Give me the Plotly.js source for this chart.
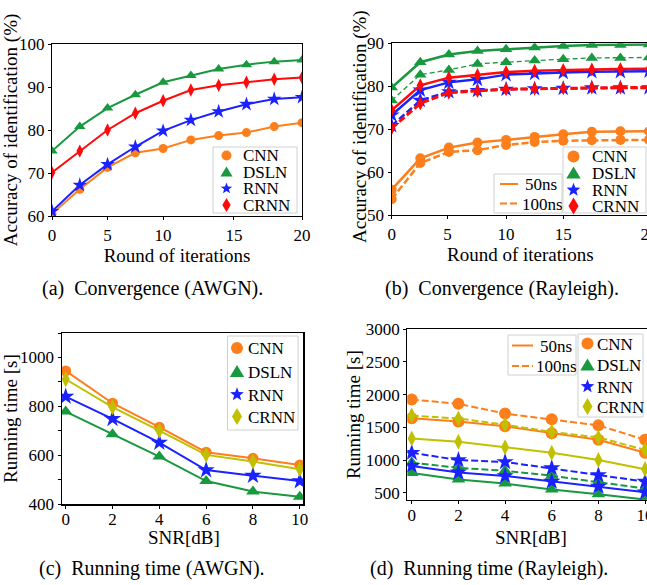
<!DOCTYPE html>
<html><head><meta charset="utf-8">
<script src="https://cdn.plot.ly/plotly-3.0.1.min.js"></script>
<style>html,body{margin:0;padding:0;overflow:hidden;background:#fff}#chart{width:660px;height:585px}</style>
</head><body><div id="chart"></div>
<script>
// ---------------- data ----------------
const models = ['CNN', 'DSLN', 'RNN', 'CRNN'];
const delaySpreads = ['50ns', '100ns'];

const roundIdx = [0, 1, 2, 3, 4, 5, 6, 7, 8, 9];
const roundTickText = ['0', '5', '10', '15', '20'];
const roundTickPosA = [0, 2, 4, 6.55, 9];
const roundTickPosB = [0, 1.95, 4, 6, 9];

const awgnAccCNN  = [60.5, 66.2, 71.3, 74.7, 75.7, 77.7, 78.7, 79.4, 80.8, 81.7];
const awgnAccDSLN = [75.1, 80.8, 85.1, 88.2, 91.1, 92.7, 94.2, 95.2, 95.9, 96.3];
const awgnAccRNN  = [61.1, 67.2, 72.0, 76.1, 79.8, 82.3, 84.3, 86.0, 87.2, 87.6];
const awgnAccCRNN = [70.1, 75.1, 80.0, 83.9, 86.8, 89.3, 90.4, 91.1, 91.8, 92.2];

const rayAccCNN50   = [55.9, 63.2, 65.7, 66.9, 67.5, 68.2, 68.8, 69.4, 69.5, 69.5];
const rayAccCNN100  = [53.7, 62.1, 64.7, 65.1, 66.3, 67.0, 67.3, 67.4, 67.5, 67.5];
const rayAccDSLN50  = [79.7, 85.6, 87.4, 88.2, 88.6, 89.0, 89.4, 89.6, 89.6, 89.7];
const rayAccDSLN100 = [76.7, 82.7, 83.8, 85.2, 85.6, 86.0, 86.3, 86.6, 86.6, 86.7];
const rayAccRNN50   = [73.3, 79.1, 80.9, 81.6, 82.7, 83.0, 83.2, 83.4, 83.4, 83.5];
const rayAccRNN100  = [70.8, 76.7, 78.7, 79.0, 79.3, 79.4, 79.5, 79.6, 79.6, 79.6];
const rayAccCRNN50  = [74.4, 80.2, 82.0, 82.6, 83.3, 83.6, 83.8, 83.9, 84.0, 84.1];
const rayAccCRNN100 = [70.2, 76.0, 78.5, 78.9, 79.3, 79.4, 79.5, 79.7, 79.7, 79.7];

const snrDb = [0, 2, 4, 6, 8, 10];
const awgnTimeCNN  = [945, 813, 715, 613, 588, 561];
const awgnTimeDSLN = [779, 686, 595, 495, 452, 431];
const awgnTimeRNN  = [840, 749, 652, 540, 517, 495];
const awgnTimeCRNN = [911, 797, 701, 602, 575, 543];

const rayTimeCNN50   = [1640, 1590, 1515, 1410, 1310, 1110];
const rayTimeCNN100  = [1925, 1860, 1710, 1625, 1530, 1310];
const rayTimeDSLN50  = [800, 700, 640, 550, 475, 395];
const rayTimeDSLN100 = [960, 880, 835, 760, 660, 565];
const rayTimeRNN50   = [910, 810, 755, 670, 595, 505];
const rayTimeRNN100  = [1110, 1000, 970, 875, 770, 670];
const rayTimeCRNN50  = [1330, 1280, 1195, 1110, 1000, 860];
const rayTimeCRNN100 = [1680, 1635, 1540, 1430, 1345, 1155];

const awgnTimeTicks = [400, 500, 600, 700, 800, 900, 1000, 1100];
const awgnTimeTickText = ['400', '', '600', '', '800', '', '1000', ''];

const titleRound = 'Round of iterations';
const titleAcc = 'Accuracy of identification (%)';
const titleSnr = 'SNR[dB]';
const titleTime = 'Running time [s]';
const captions = ['(a)  Convergence (AWGN).', '(b)  Convergence (Rayleigh).',
                  '(c)  Running time (AWGN).', '(d)  Running time (Rayleigh).'];

// ---------------- styling ----------------
const W = 660, H = 585;
const FONT = 'Liberation Serif';
const C = { CNN: '#fd7f1c', DSLN: '#18993f', RNN: '#1a22ff', CRNN: '#ff0a0a', CRNNc: '#c0c000' };
const SYM = { CNN: 'circle', DSLN: 'triangle-up', RNN: 'star', CRNN: 'diamond-tall' };
const DASH = '7px,3px';
const px = x => x / W, py = y => 1 - y / H;

function tr(x, y, xa, ya, model, color, opt) {
  opt = opt || {};
  return {
    x: x, y: y, xaxis: xa, yaxis: ya, type: 'scatter', mode: 'lines+markers',
    name: model, showlegend: false, hoverinfo: 'skip',
    line: { color: color, width: opt.lw || 2, dash: opt.dash || 'solid' },
    marker: { symbol: SYM[model], color: color, size: (opt.ms || {})[model] || 10 }
  };
}

const msA = { CNN: 9, DSLN: 10, RNN: 11, CRNN: 9.5 };
const msB = { CNN: 10, DSLN: 11, RNN: 12, CRNN: 10 };
const msC = { CNN: 11, DSLN: 12, RNN: 13, CRNN: 11.5 };
const msD = { CNN: 12, DSLN: 12, RNN: 13, CRNN: 11.5 };

const data = [
  // (a)
  tr(roundIdx, awgnAccCNN, 'x', 'y', 'CNN', C.CNN, { ms: msA }),
  tr(roundIdx, awgnAccDSLN, 'x', 'y', 'DSLN', C.DSLN, { ms: msA }),
  tr(roundIdx, awgnAccRNN, 'x', 'y', 'RNN', C.RNN, { ms: msA }),
  tr(roundIdx, awgnAccCRNN, 'x', 'y', 'CRNN', C.CRNN, { ms: msA }),
  // (b)
  tr(roundIdx, rayAccCNN50, 'x2', 'y2', 'CNN', C.CNN, { ms: msB, lw: 2.5 }),
  tr(roundIdx, rayAccCNN100, 'x2', 'y2', 'CNN', C.CNN, { ms: msB, lw: 2.5, dash: DASH }),
  tr(roundIdx, rayAccDSLN50, 'x2', 'y2', 'DSLN', C.DSLN, { ms: msB, lw: 2.5 }),
  tr(roundIdx, rayAccDSLN100, 'x2', 'y2', 'DSLN', C.DSLN, { ms: msB, lw: 1.3, dash: '5px,3px' }),
  tr(roundIdx, rayAccRNN50, 'x2', 'y2', 'RNN', C.RNN, { ms: msB, lw: 2.5 }),
  tr(roundIdx, rayAccRNN100, 'x2', 'y2', 'RNN', C.RNN, { ms: msB, lw: 2.5, dash: DASH }),
  tr(roundIdx, rayAccCRNN50, 'x2', 'y2', 'CRNN', C.CRNN, { ms: msB, lw: 2.5 }),
  tr(roundIdx, rayAccCRNN100, 'x2', 'y2', 'CRNN', C.CRNN, { ms: msB, lw: 3, dash: DASH }),
  // (c)
  tr(snrDb, awgnTimeCNN, 'x3', 'y3', 'CNN', C.CNN, { ms: msC }),
  tr(snrDb, awgnTimeDSLN, 'x3', 'y3', 'DSLN', C.DSLN, { ms: msC }),
  tr(snrDb, awgnTimeRNN, 'x3', 'y3', 'RNN', C.RNN, { ms: msC }),
  tr(snrDb, awgnTimeCRNN, 'x3', 'y3', 'CRNN', C.CRNNc, { ms: msC }),
  // (d)
  tr(snrDb, rayTimeCNN50, 'x4', 'y4', 'CNN', C.CNN, { ms: msD }),
  tr(snrDb, rayTimeCNN100, 'x4', 'y4', 'CNN', C.CNN, { ms: msD, dash: DASH }),
  tr(snrDb, rayTimeDSLN50, 'x4', 'y4', 'DSLN', C.DSLN, { ms: msD }),
  tr(snrDb, rayTimeDSLN100, 'x4', 'y4', 'DSLN', C.DSLN, { ms: msD, dash: DASH }),
  tr(snrDb, rayTimeRNN50, 'x4', 'y4', 'RNN', C.RNN, { ms: msD }),
  tr(snrDb, rayTimeRNN100, 'x4', 'y4', 'RNN', C.RNN, { ms: msD, dash: DASH }),
  tr(snrDb, rayTimeCRNN50, 'x4', 'y4', 'CRNN', C.CRNNc, { ms: msD }),
  tr(snrDb, rayTimeCRNN100, 'x4', 'y4', 'CRNN', C.CRNNc, { ms: msD, dash: DASH })
];

function axis(dom, extra) {
  return Object.assign({
    domain: dom, showline: true, mirror: true, linecolor: '#000', linewidth: 1.2,
    ticks: 'outside', ticklen: 3, tickcolor: '#000', showgrid: false, zeroline: false,
    tickfont: { family: FONT, size: 17, color: '#000' }, fixedrange: true
  }, extra);
}
function title(t, standoff) { return { text: t, standoff: standoff, font: { family: FONT, size: 19, color: '#000' } }; }

// ---- legend helpers (symbols drawn as pixel-sized shapes) ----
const shapes = [], annotations = [];
function box(x0, y0, x1, y1) {
  shapes.push({ type: 'rect', xref: 'paper', yref: 'paper', x0: px(x0), x1: px(x1), y0: py(y1), y1: py(y0),
    line: { color: '#d0d0d0', width: 1 }, fillcolor: 'rgba(255,255,255,0.85)', layer: 'above' });
}
function starPath(R) {
  const r = R * 0.42; let p = '';
  for (let i = 0; i < 10; i++) {
    const a = Math.PI / 2 + i * Math.PI / 5, rr = i % 2 ? r : R;
    p += (i ? 'L' : 'M') + (rr * Math.cos(a)).toFixed(2) + ',' + (rr * Math.sin(a)).toFixed(2);
  }
  return p + 'Z';
}
function sym(model, color, cx, cy, s) {
  const base = { xref: 'paper', yref: 'paper', xsizemode: 'pixel', ysizemode: 'pixel',
    xanchor: px(cx), yanchor: py(cy), fillcolor: color, line: { width: 0 }, layer: 'above' };
  if (model === 'CNN') {
    shapes.push(Object.assign(base, { type: 'circle', x0: -s / 2, x1: s / 2, y0: -s / 2, y1: s / 2 }));
  } else if (model === 'DSLN') {
    shapes.push(Object.assign(base, { type: 'path', path: `M0,${0.55 * s}L${-0.6 * s},${-0.45 * s}L${0.6 * s},${-0.45 * s}Z` }));
  } else if (model === 'RNN') {
    shapes.push(Object.assign(base, { type: 'path', path: starPath(s * 0.6) }));
  } else {
    shapes.push(Object.assign(base, { type: 'path', path: `M0,${0.7 * s}L${-0.42 * s},0L0,${-0.7 * s}L${0.42 * s},0Z` }));
  }
}
function label(t, x, y) {
  annotations.push({ text: t, xref: 'paper', yref: 'paper', x: px(x), y: py(y), xanchor: 'left', yanchor: 'middle',
    height: 16, valign: 'middle', showarrow: false, font: { family: FONT, size: 17, color: '#000' } });
}
function freeTitle(t, x, y, angle) {
  annotations.push({ text: t, xref: 'paper', yref: 'paper', x: px(x), y: py(y), xanchor: 'center', yanchor: 'middle',
    textangle: angle || 0, showarrow: false, font: { family: FONT, size: 19, color: '#000' } });
}
function lineSample(x0, x1, y, dash) {
  shapes.push({ type: 'line', xref: 'paper', yref: 'paper', x0: px(x0), x1: px(x1), y0: py(y), y1: py(y),
    line: { color: C.CNN, width: 2, dash: dash }, layer: 'above' });
}
function markerLegend(x0, y0, x1, y1, symX, textX, rows, colors, s) {
  box(x0, y0, x1, y1);
  models.forEach((m, i) => { sym(m, colors[i], symX, rows[i], s); label(m, textX, rows[i]); });
}

// (a)
markerLegend(213, 147, 297, 213, 226.5, 241, [155.5, 172, 188.5, 205], [C.CNN, C.DSLN, C.RNN, C.CRNN], 10);
// (b)
box(494, 174, 562, 213);
lineSample(500, 518, 184, 'solid'); label(delaySpreads[0], 523, 184);
lineSample(500, 518, 203.5, DASH); label(delaySpreads[1], 520, 203.5);
markerLegend(563, 147, 646, 213, 573.5, 590, [156.5, 173, 190, 206], [C.CNN, C.DSLN, C.RNN, C.CRNN], 12);
// (c)
markerLegend(227.5, 336, 298, 430, 237, 246, [348, 371.5, 394.5, 416.5], [C.CNN, C.DSLN, C.RNN, C.CRNNc], 12);
// (d)
box(508, 335, 576, 375);
lineSample(512, 533, 345.5, 'solid'); label(delaySpreads[0], 538, 345.5);
lineSample(512, 533, 366, DASH); label(delaySpreads[1], 534, 366);
markerLegend(578, 334, 643, 417, 587.5, 595, [343.5, 365, 386.5, 406.5], [C.CNN, C.DSLN, C.RNN, C.CRNNc], 12);

// axis titles that sit closer to their axes than Plotly's minimum standoff
freeTitle(titleAcc, 360, 127, -90);
freeTitle(titleSnr, 184, 537);
freeTitle(titleSnr, 531, 537);

// captions
[[captions[0], 152, 288], [captions[1], 502, 288], [captions[2], 152, 568], [captions[3], 489, 568]].forEach(c => {
  annotations.push({ text: c[0], xref: 'paper', yref: 'paper', x: px(c[1]), y: py(c[2]), xanchor: 'center', yanchor: 'middle',
    showarrow: false, font: { family: FONT, size: 20, color: '#000' } });
});

const layout = {
  width: W, height: H, margin: { l: 0, r: 0, t: 0, b: 0 },
  paper_bgcolor: '#fff', plot_bgcolor: '#fff', showlegend: false,
  font: { family: FONT, color: '#000' },
  xaxis: axis([px(52), px(302)], { anchor: 'y', range: [0, 9], tickvals: roundTickPosA, ticktext: roundTickText, title: title(titleRound, 3) }),
  yaxis: axis([py(216), py(44)], { anchor: 'x', range: [60, 100], tickvals: [60, 70, 80, 90, 100], title: title(titleAcc, 0) }),
  xaxis2: axis([px(391.7), px(649)], { anchor: 'y2', range: [0, 9], tickvals: roundTickPosB, ticktext: roundTickText, title: title(titleRound, 3) }),
  yaxis2: axis([py(215), py(43.3)], { anchor: 'x2', range: [50, 90], tickvals: [50, 60, 70, 80, 90] }),
  xaxis3: axis([px(61.7), px(303.3)], { anchor: 'y3', range: [-0.17, 10.15], tickvals: snrDb, ticklabelstandoff: -4 }),
  yaxis3: axis([py(504.3), py(333)], { anchor: 'x3', range: [400, 1100], tickvals: awgnTimeTicks, ticktext: awgnTimeTickText, title: title(titleTime, 0) }),
  xaxis4: axis([px(407.3), px(649.5)], { anchor: 'y4', range: [-0.19, 10.19], tickvals: snrDb, ticklabelstandoff: -4 }),
  yaxis4: axis([py(500), py(329.3)], { anchor: 'x4', range: [388, 3000], tickvals: [500, 1000, 1500, 2000, 2500, 3000], title: title(titleTime, 0) }),
  shapes: shapes, annotations: annotations
};

Plotly.newPlot('chart', data, layout, { staticPlot: true, displayModeBar: false });
</script></body></html>
